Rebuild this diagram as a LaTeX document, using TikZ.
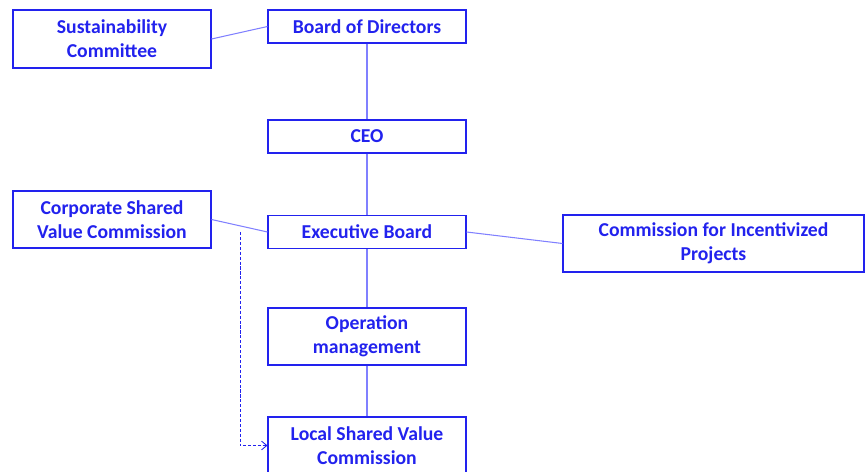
\documentclass[tikz,border=0pt]{standalone}
\usepackage{fontspec}
\setmainfont{Carlito}
\usepackage{tikz}
\usetikzlibrary{arrows.meta}
\definecolor{boxblue}{HTML}{2222EE}
\definecolor{lineblue}{HTML}{8080FF}

\begin{document}
\begin{tikzpicture}[x=0.02cm, y=-0.02cm, >=Stealth,
    orgbox/.style={draw=boxblue, line width=0.6pt, fill=white, text=boxblue,
      font=\fontsize{11.2}{13.6}\selectfont\bfseries, align=center,
      minimum width=198*0.02cm, inner sep=0pt},
    link/.style={draw=lineblue, line width=0.6pt}]
    \useasboundingbox (0,0) rectangle (865,472);
    % main chain
    \node[orgbox, minimum height=33*0.02cm] (bod) at (367,26.5) {Board of Directors};
    \node[orgbox, minimum height=33*0.02cm] (ceo) at (367,136.5) {CEO};
    \node[orgbox, minimum height=33*0.02cm] (exb) at (367,232) {Executive Board};
    \node[orgbox, minimum height=57*0.02cm] (opm) at (367,336.5) {Operation\\management};
    \node[orgbox, minimum height=57*0.02cm] (lsv) at (367,445.5) {Local Shared Value\\Commission};
    % side boxes
    \node[orgbox, minimum height=58*0.02cm] (sus) at (112,39) {Sustainability\\Committee};
    \node[orgbox, minimum height=57*0.02cm] (csv) at (112,219.5) {Corporate Shared\\Value Commission};
    \node[orgbox, minimum height=57*0.02cm, minimum width=301*0.02cm] (cip) at (713.5,243.5) {Commission for Incentivized\\Projects};
    % links
    \draw[link] (bod) -- (ceo) -- (exb) -- (opm) -- (lsv);
    \draw[link] (sus.east) -- (bod.west);
    \draw[link] (csv.east) -- (exb.west);
    \draw[link] (exb.east) -- (cip.west);
    % dashed reporting line
    \coordinate (dstart) at (240,232);
    \draw[boxblue, line width=0.5pt, dash pattern=on 1.8pt off 1pt, ->, >={Straight Barb[length=3pt,width=5pt]}]
      (dstart) |- (lsv.west);
\end{tikzpicture}
\end{document}
